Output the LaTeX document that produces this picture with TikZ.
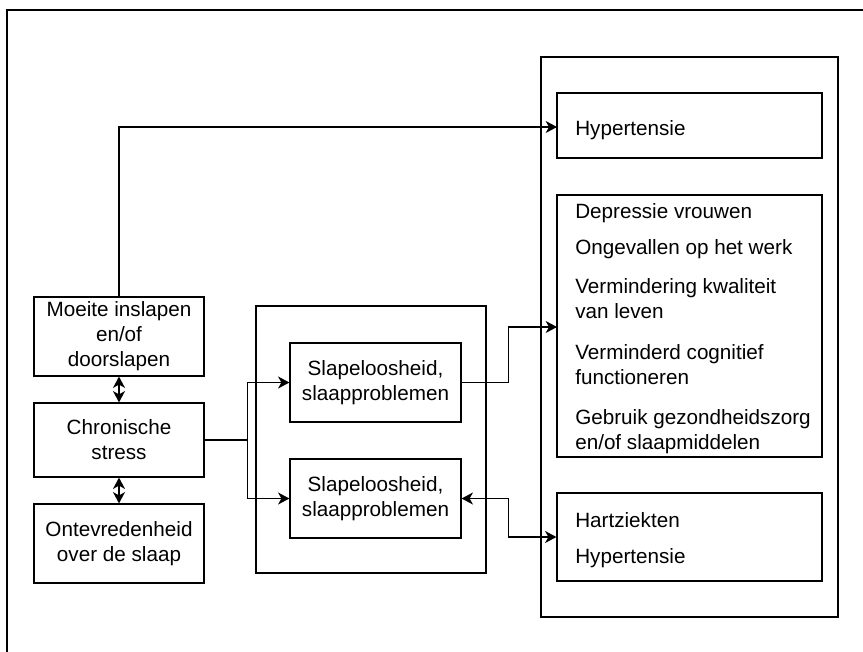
\documentclass[tikz,border=0pt]{standalone}
\usepackage{fontspec}
\setmainfont{Liberation Sans}
\usetikzlibrary{arrows.meta}

\begin{document}
\begin{tikzpicture}[x=0.75pt,y=-0.75pt,
  every node/.style={font=\fontsize{15.5pt}{18.75pt}\selectfont, text=black},
  box/.style={draw, line width=0.9pt, rectangle, inner sep=0pt, align=center},
  item/.style={anchor=base west, inner sep=0pt},
  tip/.tip={Stealth[length=8.5pt,width=9pt,inset=2.5pt]},
  link/.style={line width=0.9pt, -tip},
  twoway/.style={line width=0.9pt, tip-tip},
  frame/.style={line width=1.6pt}
]
% page area and white background
\useasboundingbox (0,0) rectangle (863,651);
\fill[white] (0,0) rectangle (863,651);
\begin{scope}
\clip (0,0) rectangle (863,651);
% outer frame (runs past the page on the right and at the bottom)
\draw[frame] (7,680) -- (7,10) -- (900,10);
\end{scope}

% left column
\node[box, minimum width=127.5pt, minimum height=59.25pt] (moeite) at (119,336.5)
  {Moeite inslapen\\en/of\\doorslapen};
\node[box, minimum width=127.5pt, minimum height=55.5pt] (chron) at (119,440)
  {Chronische\\stress};
\node[box, minimum width=127.5pt, minimum height=59.25pt] (ontev) at (119,543.5)
  {Ontevredenheid\\over de slaap};

% middle group
\node[box, minimum width=172.5pt, minimum height=200.25pt] (mid) at (371,439.5) {};
\node[box, minimum width=128.25pt, minimum height=59.25pt] (slap1) at (375.5,382.5)
  {Slapeloosheid,\\slaapproblemen};
\node[box, minimum width=128.25pt, minimum height=59.25pt] (slap2) at (375.5,498.5)
  {Slapeloosheid,\\slaapproblemen};

% right group
\node[box, minimum width=222.75pt, minimum height=420pt] (right) at (689.5,337) {};
\node[box, minimum width=198.75pt, minimum height=48.75pt] (hyper) at (689.5,125.5) {};
\node[box, minimum width=198.75pt, minimum height=196.5pt] (list) at (689.5,326) {};
\node[box, minimum width=198.75pt, minimum height=66pt] (hart) at (689.5,537) {};

% texts in the right group
\node[item] (h1) at (575,135) {Hypertensie};
\node[item] (l1) at (575,218) {Depressie vrouwen};
\node[item] (l2) at (575,254) {Ongevallen op het werk};
\node[item] (l3) at (575,293) {Vermindering kwaliteit};
\node[item] (l4) at (575,318) {van leven};
\node[item] (l5) at (575,359) {Verminderd cognitief};
\node[item] (l6) at (575,384) {functioneren};
\node[item] (l7) at (575,424) {Gebruik gezondheidszorg};
\node[item] (l8) at (575,449) {en/of slaapmiddelen};
\node[item] (k1) at (575,527) {Hartziekten};
\node[item] (k2) at (575,563) {Hypertensie};

% connectors
\coordinate (listin) at (557,327);
\coordinate (hyperin) at (557,127);
\draw[link] (moeite.north) |- (hyperin);
\draw[twoway] (moeite.south) -- (chron.north);
\draw[twoway] (chron.south) -- (ontev.north);
\draw[link] (chron.east) -- ++(43,0) |- (slap1.west);
\draw[link] (chron.east) -- ++(43,0) |- (slap2.west);
\draw[link] (slap1.east) -- ++(47,0) |- (listin);
\draw[twoway] (slap2.east) -- ++(47,0) |- (hart.west);
\end{tikzpicture}
\end{document}
